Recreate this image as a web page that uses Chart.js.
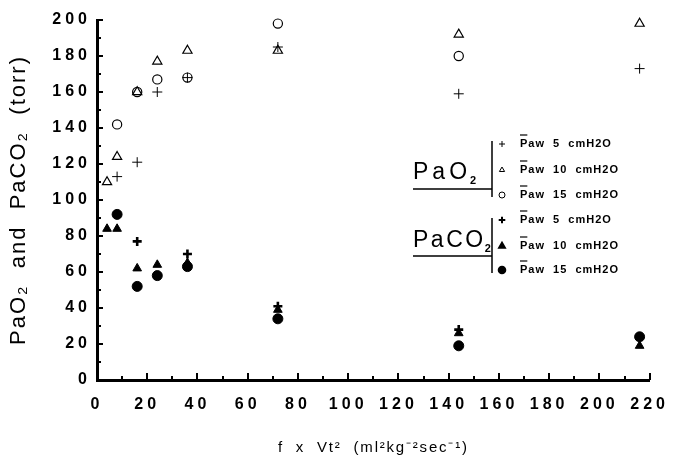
<!DOCTYPE html>
<html>
<head>
<meta charset="utf-8">
<script src="https://cdn.jsdelivr.net/npm/chart.js@4"></script>
<style>
  html, body { margin: 0; padding: 0; background: #fff; }
  #wrap { width: 678px; height: 456px; }
</style>
</head>
<body>
<div id="wrap"><canvas id="chart"></canvas></div>
<script>
// f x Vt2 values where measurements were taken
var xValues = [4, 8, 16, 24, 36, 72, 144, 216];

// PaO2 (torr), null = no point shown
var pao2Paw5  = [null, 113, 121, 160, 168, 185, 159, 173];
var pao2Paw10 = [110, 124, 160, 177, 183, 183, 192, 198];
var pao2Paw15 = [null, 142, 160, 167, 168, 198, 180, null];

// PaCO2 (torr)
var paco2Paw5  = [null, null, 77, null, 70, 41, 28, null];
var paco2Paw10 = [84, 84, 62, 64, 65, 39, 26, 19];
var paco2Paw15 = [null, 92, 52, 58, 63, 34, 19, 24];

var seriesLabels = ['Paw  5  cmH2O', 'Paw  10  cmH2O', 'Paw  15  cmH2O'];
var groupLabels = ['PaO', 'PaCO'];

var yTitle = 'PaO\u2082  and  PaCO\u2082  (torr)';
var xTitle = 'f  x  Vt\u00b2  (ml\u00b2kg\u207b\u00b2sec\u207b\u00b9)';

var FONT = '"Liberation Sans", Arial, Helvetica, sans-serif';

function pts(ys) {
  var out = [];
  for (var i = 0; i < xValues.length; i++) {
    if (ys[i] !== null) out.push({ x: xValues[i], y: ys[i] });
  }
  return out;
}

function ds(label, group, ys, style, r, filled, lw) {
  return {
    label: label,
    group: group,
    data: pts(ys),
    pointStyle: style,
    pointRadius: r,
    pointHoverRadius: r,
    pointBorderWidth: lw,
    borderColor: '#000',
    pointBackgroundColor: filled ? '#000' : 'rgba(0,0,0,0)',
    showLine: false,
    clip: false
  };
}

var datasets = [
  ds(seriesLabels[0], 0, pao2Paw5,  'cross',    5,   false, 1),
  ds(seriesLabels[1], 0, pao2Paw10, 'triangle', 5.3, false, 1.2),
  ds(seriesLabels[2], 0, pao2Paw15, 'circle',   4.6, false, 1.2),
  ds(seriesLabels[0], 1, paco2Paw5,  'cross',    4.5, true, 2.6),
  ds(seriesLabels[1], 1, paco2Paw10, 'triangle', 5,   true, 1),
  ds(seriesLabels[2], 1, paco2Paw15, 'circle',   5,   true, 1)
];

// inward tick marks, axis titles and the bracket legend
var decorations = {
  id: 'decorations',
  beforeDraw: function(chart) {
    chart.ctx.letterSpacing = '4px';
  },
  afterDraw: function(chart) {
    var ctx = chart.ctx, a = chart.chartArea;
    var x = chart.scales.x, y = chart.scales.y;
    ctx.letterSpacing = '0px';
    ctx.save();
    ctx.strokeStyle = '#000';
    ctx.fillStyle = '#000';
    ctx.lineWidth = 2;
    ctx.beginPath();
    for (var v = 10; v <= 200; v += 10) {
      var py = Math.round(y.getPixelForValue(v));
      ctx.moveTo(a.left, py);
      ctx.lineTo(a.left + (v % 20 === 0 ? 6 : 4), py);
    }
    for (var u = 10; u <= 220; u += 10) {
      var px = Math.round(x.getPixelForValue(u));
      ctx.moveTo(px, a.bottom);
      ctx.lineTo(px, a.bottom - (u % 20 === 0 ? 7 : 4));
    }
    ctx.stroke();

    // y title
    ctx.save();
    ctx.translate(25, (a.top + a.bottom) / 2);
    ctx.rotate(-Math.PI / 2);
    ctx.font = '22px ' + FONT;
    ctx.letterSpacing = '2px';
    ctx.textAlign = 'center';
    ctx.textBaseline = 'alphabetic';
    ctx.fillText(yTitle, 0, 0);
    ctx.restore();

    // x title
    ctx.font = '15px ' + FONT;
    ctx.letterSpacing = '1.8px';
    ctx.textAlign = 'center';
    ctx.textBaseline = 'alphabetic';
    ctx.fillText(xTitle, (a.left + a.right) / 2, 452);

    // legend
    var rowY = [144, 170, 195, 220, 246, 270];
    var symX = 502, textX = 520;
    ctx.textAlign = 'left';
    ctx.textBaseline = 'middle';
    chart.data.datasets.forEach(function(d, i) {
      var yy = rowY[i];
      ctx.save();
      ctx.fillStyle = d.pointBackgroundColor;
      ctx.strokeStyle = '#000';
      ctx.lineWidth = d.group === 0 ? 1 : 2;
      Chart.helpers.drawPoint(ctx, {
        pointStyle: d.pointStyle,
        radius: d.group === 0 ? 3 : 3.3,
        rotation: 0,
        borderWidth: d.group === 0 ? 1 : (d.pointStyle === 'cross' ? 2 : 1)
      }, symX, yy);
      ctx.restore();
      ctx.font = 'bold 11px ' + FONT;
      ctx.letterSpacing = '1px';
      ctx.fillText(d.label, textX, yy);
      var wP = ctx.measureText('P').width - 1;
      ctx.lineWidth = 1.2;
      ctx.beginPath();
      ctx.moveTo(textX, yy - 9);
      ctx.lineTo(textX + wP, yy - 9);
      ctx.stroke();
    });

    // group brackets
    ctx.lineWidth = 1.5;
    ctx.beginPath();
    ctx.moveTo(492, 141); ctx.lineTo(492, 197);
    ctx.moveTo(413, 189); ctx.lineTo(492, 189);
    ctx.moveTo(492, 218); ctx.lineTo(492, 273);
    ctx.moveTo(413, 256); ctx.lineTo(492, 256);
    ctx.stroke();

    var baseY = [179, 247];
    ctx.textBaseline = 'alphabetic';
    groupLabels.forEach(function(g, i) {
      ctx.font = '23px ' + FONT;
      ctx.letterSpacing = i === 0 ? '4px' : '2.5px';
      ctx.fillText(g, 413, baseY[i]);
      var w = ctx.measureText(g).width;
      ctx.font = 'bold 11px ' + FONT;
      ctx.letterSpacing = '0px';
      ctx.fillText('2', 413 + w - 1, baseY[i] + 5);
    });
    ctx.restore();
  }
};

new Chart(document.getElementById('chart').getContext('2d'), {
  type: 'scatter',
  data: { datasets: datasets },
  plugins: [decorations],
  options: {
    responsive: true,
    maintainAspectRatio: false,
    animation: false,
    layout: { padding: { top: 20, right: 23, left: 0, bottom: 0 } },
    plugins: { legend: { display: false }, tooltip: { enabled: false } },
    elements: { point: { borderColor: '#000' } },
    scales: {
      x: {
        type: 'linear',
        min: 0,
        max: 220,
        afterFit: function(s) { s.height = 76; },
        border: { display: true, color: '#000', width: 3 },
        grid: { display: false, drawTicks: false },
        ticks: {
          stepSize: 20,
          padding: 15,
          color: '#000',
          maxRotation: 0,
          font: { family: FONT, size: 16, weight: 'bold' }
        }
      },
      y: {
        min: 0,
        max: 200,
        afterFit: function(s) { s.width = 97; },
        border: { display: true, color: '#000', width: 3 },
        grid: { display: false, drawTicks: false },
        ticks: {
          stepSize: 20,
          padding: 6,
          color: '#000',
          font: { family: FONT, size: 16, weight: 'bold' }
        }
      }
    }
  }
});
</script>
</body>
</html>
